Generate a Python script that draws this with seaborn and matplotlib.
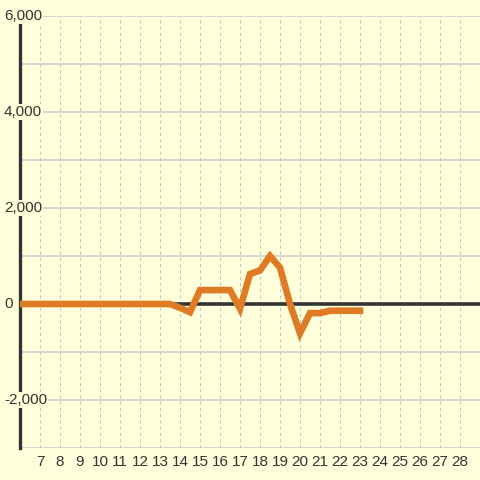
import matplotlib
matplotlib.use("Agg")
import matplotlib.pyplot as plt
import seaborn as sns
import numpy as np
import pandas as pd

# ---- data ----
x_vals = [6, 6.5, 7, 7.5, 8, 8.5, 9, 9.5, 10, 10.5, 11, 11.5, 12, 12.5, 13, 13.5,
          14, 14.5, 15, 15.5, 16, 16.5, 17, 17.5, 18, 18.5, 19, 19.5, 20, 20.5,
          21, 21.5, 22, 22.5, 23]
y_vals = [0, 0, 0, 0, 0, 0, 0, 0, 0, 0, 0, 0, 0, 0, 0, 0,
          -80, -170, 290, 290, 290, 290, -100, 625, 700, 1000, 760, 0, -610, -190,
          -190, -140, -140, -140, -140]
x_ticks = list(range(7, 29))
y_ticks = [-2000, 0, 2000, 4000, 6000]
y_tick_labels = ["-2,000", "0", "2,000", "4,000", "6,000"]

BG = "#ffffdb"
ORANGE = "#e07b25"
DARK = "#333333"
GRID = "#cccccc"

sns.set_style("white")
plt.rcParams["font.family"] = ["Liberation Sans", "DejaVu Sans"]

fig = plt.figure(figsize=(4.8, 4.8), dpi=100, facecolor=BG)
ax = fig.add_axes([20 / 480, 32 / 480, 460 / 480, 432 / 480])
ax.set_facecolor(BG)

df = pd.DataFrame({"x": x_vals, "y": y_vals})

ax.set_xlim(6, 29)
ax.set_ylim(-3000, 6000)

# grids
for yv in range(-3000, 6001, 1000):
    ax.axhline(yv, color=GRID, lw=1.1, zorder=0.5)
for xv in x_ticks:
    ax.axvline(xv, color="#c4c4c4", lw=0.75, ls=(0, (3, 3)), zorder=0.5)

# zero line
ax.axhline(0, color=DARK, lw=2.6, zorder=2.6)

sns.lineplot(data=df, x="x", y="y", ax=ax, color=ORANGE, linewidth=4.8,
             zorder=3, solid_capstyle="projecting", solid_joinstyle="miter")

for s in ["top", "right", "bottom"]:
    ax.spines[s].set_visible(False)
ax.spines["left"].set_color(DARK)
ax.spines["left"].set_linewidth(2.4)
ax.spines["left"].set_zorder(2.5)

ax.set_xticks(x_ticks)
ax.set_xticklabels([str(t) for t in x_ticks])
ax.tick_params(axis="x", length=0, pad=5, labelsize=11, labelcolor=DARK)
ax.set_yticks([])
ax.set_xlabel("")
ax.set_ylabel("")

trans = matplotlib.transforms.blended_transform_factory(fig.transFigure, ax.transData)
for yv, lab in zip(y_ticks, y_tick_labels):
    ax.text(4 / 480, yv, lab, transform=trans, ha="left", va="center",
            fontsize=11, color=DARK, zorder=4, clip_on=False,
            bbox=dict(facecolor=BG, edgecolor="none", pad=0.5))

fig.savefig("out.png", dpi=100, facecolor=BG)
